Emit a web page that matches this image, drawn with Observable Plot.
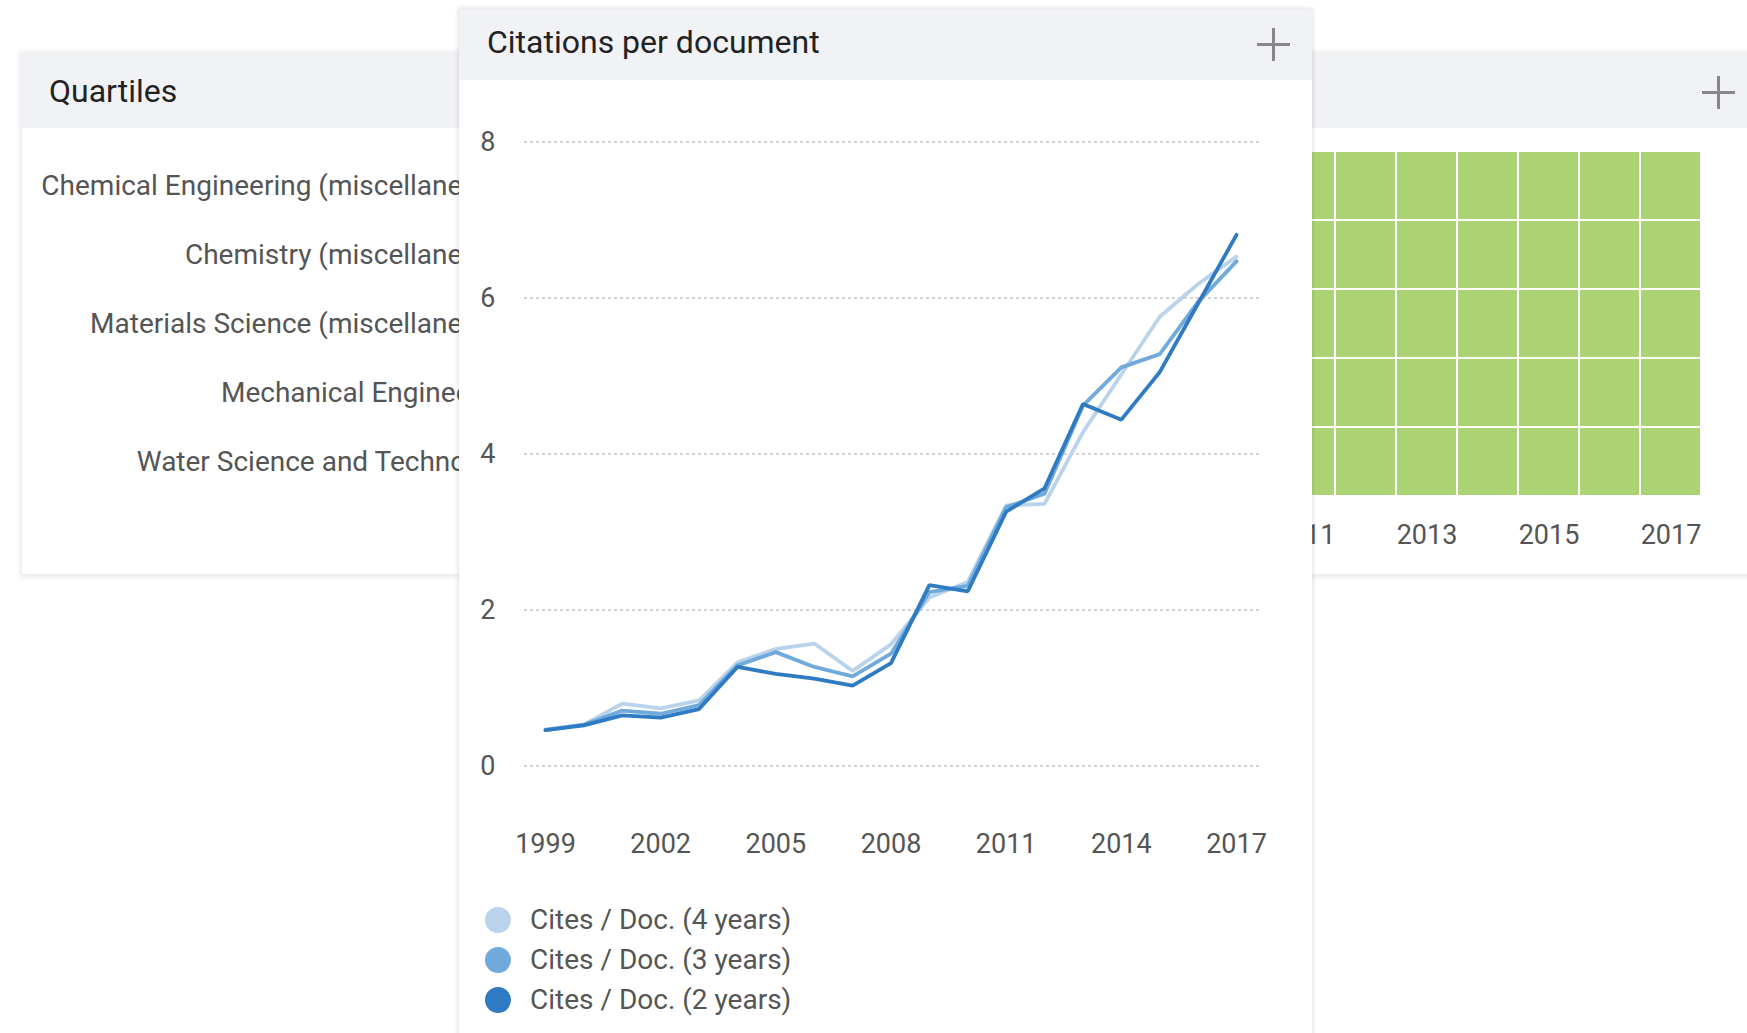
<!DOCTYPE html>
<html>
<head>
<meta charset="utf-8">
<script src="https://cdn.jsdelivr.net/npm/d3@7"></script>
<script src="https://cdn.jsdelivr.net/npm/@observablehq/plot@0.6"></script>
<style>
  html, body { margin: 0; padding: 0; background: #fff; }
  body { width: 1747px; height: 1033px; overflow: hidden; position: relative; font-family: Roboto, "Noto Sans", sans-serif; }
  .panel { position: absolute; background: #fff; }
  .hdr { position: absolute; left: 0; right: 0; top: 0; background: #f1f2f6; color: #222; font-size: 32px; white-space: nowrap; }
  .plus { position: absolute; width: 33px; height: 33px; }
  .plus::before, .plus::after { content: ""; position: absolute; background: #888; }
  .plus::before { left: 15px; top: 0; width: 3px; height: 33px; }
  .plus::after { left: 0; top: 15px; width: 33px; height: 3px; }
  .abs { position: absolute; }
  .legend { position: absolute; left: 0; top: 0; }
  .legend .item { position: absolute; left: 485px; height: 26px; white-space: nowrap; }
  .legend .dot { position: absolute; left: 0; top: 0; width: 26px; height: 26px; border-radius: 50%; }
  .legend .lab { position: absolute; left: 45px; top: -4px; font-size: 28px; line-height: 34px; color: #555; }
</style>
</head>
<body>
<div id="qpanel" class="panel" style="left:22px; top:53px; width:1760px; height:521px; box-shadow: 0 1px 5px 3px rgba(0,0,0,0.07);">
  <div class="hdr" style="height:75px; line-height:77px; padding-left:27px;">Quartiles</div>
  <div class="plus" style="left:1680px; top:23px;"></div>
</div>
<div id="qchart" class="abs" style="left:0; top:0;"></div>
<div id="mpanel" class="panel" style="left:459px; top:9px; width:853px; height:1100px; box-shadow: 0 0 4px 1px rgba(0,0,0,0.12);">
  <div class="hdr" style="height:71px; line-height:66px; padding-left:28px;">Citations per document</div>
  <div class="plus" style="left:798px; top:19px;"></div>
</div>
<div id="mchart" class="abs" style="left:459px; top:80px;"></div>
<div id="legend" class="legend"></div>

<script>
// ---------- data ----------
const years = [1999, 2000, 2001, 2002, 2003, 2004, 2005, 2006, 2007, 2008, 2009, 2010, 2011, 2012, 2013, 2014, 2015, 2016, 2017];
const citesPerDoc4 = [0.47, 0.53, 0.80, 0.74, 0.84, 1.33, 1.50, 1.57, 1.22, 1.56, 2.16, 2.36, 3.34, 3.36, 4.28, 5.02, 5.76, 6.18, 6.53];
const citesPerDoc3 = [0.46, 0.53, 0.71, 0.67, 0.78, 1.29, 1.46, 1.27, 1.15, 1.44, 2.23, 2.31, 3.32, 3.49, 4.62, 5.11, 5.28, 5.95, 6.47];
const citesPerDoc2 = [0.46, 0.52, 0.65, 0.62, 0.73, 1.27, 1.18, 1.12, 1.03, 1.32, 2.32, 2.24, 3.26, 3.56, 4.64, 4.44, 5.05, 5.93, 6.81];
const seriesNames = ["Cites / Doc. (4 years)", "Cites / Doc. (3 years)", "Cites / Doc. (2 years)"];
const seriesColors = ["#b9d3ec", "#70aadc", "#2f7bc3"];
const yTicks = [0, 2, 4, 6, 8];
const xTicks = [1999, 2002, 2005, 2008, 2011, 2014, 2017];

const subjects = ["Chemical Engineering (miscellaneous)", "Chemistry (miscellaneous)", "Materials Science (miscellaneous)", "Mechanical Engineering", "Water Science and Technology"];
const quartileByYear = {
  "Chemical Engineering (miscellaneous)": ["Q1","Q1","Q1","Q1","Q1","Q1","Q1","Q1","Q1","Q1","Q1","Q1","Q1","Q1","Q1","Q1","Q1","Q1","Q1"],
  "Chemistry (miscellaneous)":            ["Q1","Q1","Q1","Q1","Q1","Q1","Q1","Q1","Q1","Q1","Q1","Q1","Q1","Q1","Q1","Q1","Q1","Q1","Q1"],
  "Materials Science (miscellaneous)":    ["Q1","Q1","Q1","Q1","Q1","Q1","Q1","Q1","Q1","Q1","Q1","Q1","Q1","Q1","Q1","Q1","Q1","Q1","Q1"],
  "Mechanical Engineering":               ["Q1","Q1","Q1","Q1","Q1","Q1","Q1","Q1","Q1","Q1","Q1","Q1","Q1","Q1","Q1","Q1","Q1","Q1","Q1"],
  "Water Science and Technology":         ["Q1","Q1","Q1","Q1","Q1","Q1","Q1","Q1","Q1","Q1","Q1","Q1","Q1","Q1","Q1","Q1","Q1","Q1","Q1"]
};
const quartileTicks = [1999, 2001, 2003, 2005, 2007, 2009, 2011, 2013, 2015, 2017];
const quartileNames = ["Q1", "Q2", "Q3", "Q4"];
const quartileColors = ["#acd373", "#e8d559", "#fb9f50", "#dd5a4e"];

// ---------- quartiles heatmap ----------
const cells = [];
subjects.forEach(s => quartileByYear[s].forEach((q, i) => cells.push({subject: s, year: years[i], q})));

const qchart = Plot.plot({
  width: 1747, height: 580,
  marginLeft: 541.5, marginRight: 46.5, marginTop: 150, marginBottom: 84,
  x: {type: "band", domain: years, padding: 0},
  y: {type: "band", domain: subjects, padding: 0},
  color: {domain: quartileNames, range: quartileColors},
  style: {background: "transparent", fontFamily: "Roboto, sans-serif", color: "#555", overflow: "visible"},
  marks: [
    Plot.cell(cells, {x: "year", y: "subject", fill: "q", inset: 1}),
    Plot.axisX({ticks: quartileTicks, tickSize: 0, tickPadding: 28, fontSize: 27, tickFormat: d => String(d), label: null}),
    Plot.axisY({tickSize: 0, tickPadding: 24, fontSize: 28, label: null})
  ]
});
document.getElementById("qchart").appendChild(qchart);

// ---------- citations per document ----------
const rows = [];
[citesPerDoc4, citesPerDoc3, citesPerDoc2].forEach((arr, k) =>
  arr.forEach((v, i) => rows.push({series: seriesNames[k], year: years[i], value: v})));

const mchart = Plot.plot({
  width: 853, height: 800,
  marginLeft: 65, marginRight: 53, marginTop: 61.5, marginBottom: 114.5,
  x: {domain: [1998.453, 2017.599]},
  y: {domain: [0, 8]},
  color: {domain: seriesNames, range: seriesColors},
  style: {background: "transparent", fontFamily: "Roboto, sans-serif", color: "#555", overflow: "visible"},
  marks: [
    Plot.ruleY(yTicks, {stroke: "#c4c4c4", strokeWidth: 1.3, strokeDasharray: "3,3"}),
    Plot.axisY({ticks: yTicks, tickSize: 0, tickPadding: 29, fontSize: 27, label: null}),
    Plot.axisX({ticks: xTicks, tickSize: 0, tickPadding: 68, fontSize: 27, tickFormat: d => String(d), label: null}),
    Plot.line(rows, {x: "year", y: "value", z: "series", stroke: "series", strokeWidth: 3.8, strokeLinejoin: "miter"})
  ]
});
document.getElementById("mchart").appendChild(mchart);

// ---------- legend ----------
const legend = document.getElementById("legend");
const legendTops = [907, 947, 987];
seriesNames.forEach((name, k) => {
  const item = document.createElement("div");
  item.className = "item";
  item.style.top = legendTops[k] + "px";
  item.innerHTML = `<div class="dot" style="background:${seriesColors[k]}"></div><div class="lab">${name}</div>`;
  legend.appendChild(item);
});
</script>
</body>
</html>
